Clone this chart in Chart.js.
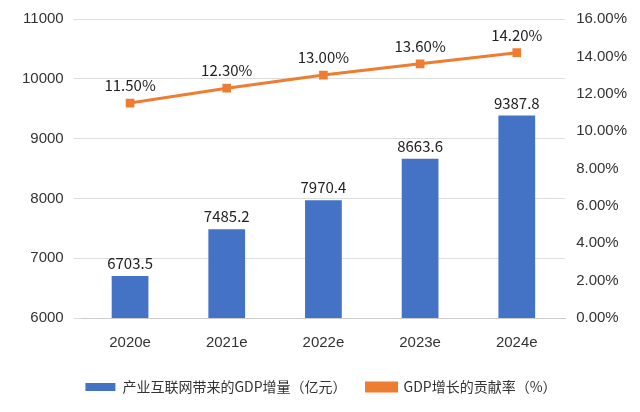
<!DOCTYPE html>
<html><head><meta charset="utf-8">
<script src="https://cdn.jsdelivr.net/npm/chart.js@4"></script>
<style>body{margin:0;background:#fff}#w{width:640px;height:412px}</style>
</head><body><div id="w"><canvas id="c"></canvas></div>
<script>
const categories=['2020e','2021e','2022e','2023e','2024e'];
const gdpValues=[6703.5,7485.2,7970.4,8663.6,9387.8];
const rateValues=[11.5,12.3,13.0,13.6,14.2];
const labelPlugin={id:'lbl',afterDatasetsDraw(ch){const c=ch.ctx;c.save();c.font='15px "Noto Sans CJK SC", sans-serif';c.fillStyle='#222';c.textAlign='center';c.textBaseline='bottom';
ch.getDatasetMeta(0).data.forEach((e,i)=>c.fillText(gdpValues[i].toFixed(1),e.x,e.y-5));
ch.getDatasetMeta(1).data.forEach((e,i)=>c.fillText(rateValues[i].toFixed(2)+'%',e.x,e.y-10));c.restore();}};
new Chart(document.getElementById('c'),{type:'bar',data:{labels:categories,datasets:[
{type:'bar',label:'产业互联网带来的GDP增量（亿元）',data:gdpValues,backgroundColor:'#4472C4',yAxisID:'y',barPercentage:0.38,categoryPercentage:1,order:2},
{type:'line',label:'GDP增长的贡献率（%）',data:rateValues,borderColor:'#ED7D31',backgroundColor:'#ED7D31',borderWidth:3,pointStyle:'rect',pointRadius:4,yAxisID:'y1',order:1}]},
options:{responsive:true,maintainAspectRatio:false,animation:false,layout:{padding:{top:8,right:10,left:12,bottom:8}},
plugins:{legend:{position:'bottom',reverse:false,labels:{sort:(a,b)=>a.datasetIndex-b.datasetIndex,padding:20,font:{size:14,family:'"Noto Sans CJK SC"'},color:'#333',boxWidth:30,boxHeight:8}},tooltip:{enabled:false}},
scales:{x:{grid:{display:false},border:{color:'#ccc'},ticks:{padding:8,font:{size:15},color:'#333'}},
y:{min:6000,max:11000,ticks:{stepSize:1000,padding:10,font:{size:15},color:'#333',callback:v=>String(v)},grid:{color:'#ddd'},border:{display:false}},
y1:{position:'right',min:0,max:16,ticks:{stepSize:2,font:{size:15},color:'#333',callback:v=>v.toFixed(2)+'%'},grid:{display:false},border:{display:false}}}},
plugins:[labelPlugin]});
</script></body></html>
